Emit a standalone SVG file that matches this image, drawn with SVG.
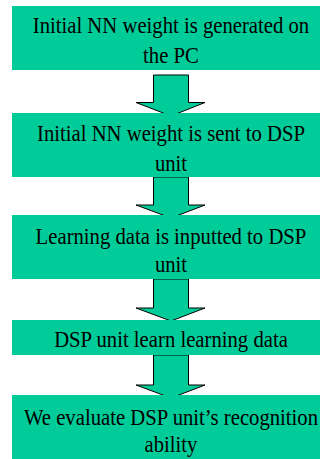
<svg xmlns="http://www.w3.org/2000/svg" width="320" height="459" viewBox="0 0 320 459">
<style>
.box{fill:#00CC99;}
.arrow{fill:#00CC99;stroke:#000;stroke-width:1;stroke-linejoin:miter;}
.t{font-family:"Liberation Serif","Times New Roman",serif;font-size:23px;fill:#000;text-anchor:middle;}
</style>
<rect width="320" height="459" fill="#fff"/>
<g id="connectors">
<path class="arrow" d="M153.5,75 L188.5,75 L188.5,102.5 L205,102.5 L171,116 L136,102.5 L153.5,102.5 Z"/>
<path class="arrow" d="M153.5,177 L188.5,177 L188.5,205 L205,205 L171,218 L136,205 L153.5,205 Z"/>
<path class="arrow" d="M153.5,279 L188.5,279 L188.5,308 L205,308 L171,321 L136,308 L153.5,308 Z"/>
<path class="arrow" d="M153.5,355 L188.5,355 L188.5,385 L205,385 L171,398 L136,385 L153.5,385 Z"/>
</g>
<g id="node1">
<rect class="box" x="12" y="6" width="318" height="64"/>
<text class="t" transform="matrix(0.9 0 0 1 17.1 0)" x="171" y="33">Initial NN weight is generated on</text>
<text class="t" transform="matrix(0.9 0 0 1 17.1 0)" x="171" y="63">the PC</text>
</g>
<g id="node2">
<rect class="box" x="12" y="113" width="318" height="64"/>
<text class="t" transform="matrix(0.9 0 0 1 17.1 0)" x="171" y="141.5">Initial NN weight is sent to DSP</text>
<text class="t" transform="matrix(0.9 0 0 1 17.1 0)" x="171" y="171">unit</text>
</g>
<g id="node3">
<rect class="box" x="12" y="215" width="318" height="64"/>
<text class="t" transform="matrix(0.9 0 0 1 17.1 0)" x="171" y="244">Learning data is inputted to DSP</text>
<text class="t" transform="matrix(0.9 0 0 1 17.1 0)" x="171" y="272">unit</text>
</g>
<g id="node4">
<rect class="box" x="12" y="320" width="318" height="35"/>
<text class="t" transform="matrix(0.9 0 0 1 17.1 0)" x="171" y="347">DSP unit learn learning data</text>
</g>
<g id="node5">
<rect class="box" x="12" y="395" width="318" height="64"/>
<text class="t" transform="matrix(0.9 0 0 1 17.1 0)" x="171" y="425">We evaluate DSP unit’s recognition</text>
<text class="t" transform="matrix(0.9 0 0 1 17.1 0)" x="171" y="452">ability</text>
</g>
</svg>
